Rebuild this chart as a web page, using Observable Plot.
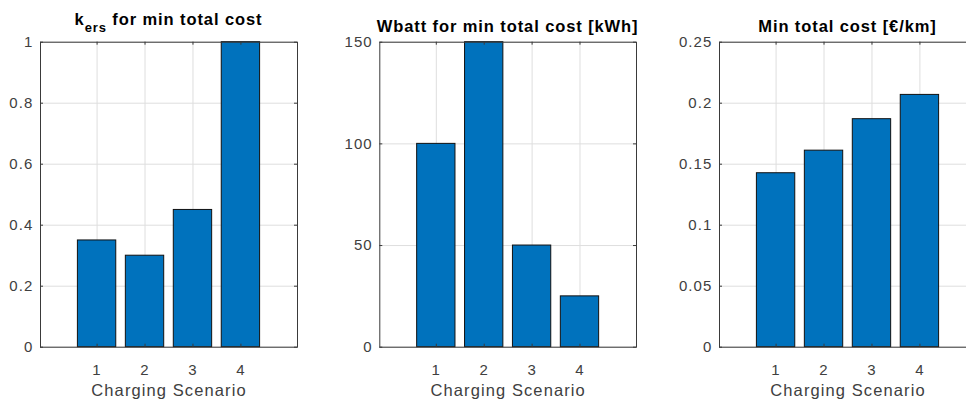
<!DOCTYPE html>
<html><head><meta charset="utf-8">
<script src="https://cdn.jsdelivr.net/npm/d3@7"></script>
<script src="https://cdn.jsdelivr.net/npm/@observablehq/plot@0.6"></script>
<style>
html,body{margin:0;padding:0;background:#fff;overflow:hidden;}
#wrap{position:relative;width:966px;height:403px;overflow:hidden;background:#fff;}
.panel{position:absolute;top:0;}
.panel svg{max-width:none !important;display:block;}
.panel svg text{letter-spacing:1.1px;}
</style></head><body><div id="wrap"></div>
<script>
const scenarios = [1, 2, 3, 4];
const kersValues = [0.35, 0.30, 0.45, 1.00];
const wbattValues = [100, 150, 50, 25];
const costValues = [0.1426, 0.1611, 0.1869, 0.2068];
const kersTicks = [0, 0.2, 0.4, 0.6, 0.8, 1];
const wbattTicks = [0, 50, 100, 150];
const costTicks = [0, 0.05, 0.1, 0.15, 0.2, 0.25];
const xLabel = "Charging Scenario";

const FONT = "'Liberation Sans', Arial, Helvetica, sans-serif";
const H = 403, MT = 41.7, MB = 56.3;
const FH = H - MT - MB;
const axisColor = "#3a3a3a";
const textColor = "#404040";

function panel(cfg) {
  const data = scenarios.map((s, i) => ({s, v: cfg.values[i]}));
  const fw = cfg.width - cfg.marginLeft - cfg.marginRight;
  const svg = Plot.plot({
    width: cfg.width, height: H,
    marginTop: MT, marginBottom: MB, marginLeft: cfg.marginLeft, marginRight: cfg.marginRight,
    x: {type: "linear", domain: [1 - 1.18, 4 + 1.18]},
    y: {type: "linear", domain: [0, cfg.yTicks[cfg.yTicks.length - 1]]},
    style: {fontFamily: FONT, fontSize: "15px", color: textColor, background: "transparent", overflow: "visible"},
    marks: [
      Plot.gridX(scenarios, {stroke: "#dedede", strokeOpacity: 1}),
      Plot.gridY(cfg.yTicks, {stroke: "#dedede", strokeOpacity: 1}),
      Plot.rectY(data, {x1: d => d.s - 0.4, x2: d => d.s + 0.4, y1: 0, y2: "v", fill: "#0072BD", stroke: "#111", strokeWidth: 1}),
      Plot.tickX(scenarios, {x: d => d, stroke: axisColor, insetTop: FH - 3}),
      Plot.tickX(scenarios, {x: d => d, stroke: axisColor, insetBottom: FH - 3}),
      Plot.tickY(cfg.yTicks, {y: d => d, stroke: axisColor, insetRight: fw - 3}),
      Plot.tickY(cfg.yTicks, {y: d => d, stroke: axisColor, insetLeft: fw - 3}),
      Plot.frame({stroke: axisColor}),
      Plot.axisX(scenarios, {tickSize: 0, tickPadding: 17, label: null, fontSize: 15, tickFormat: d => String(d)}),
      Plot.axisY(cfg.yTicks, {tickSize: 0, tickPadding: 7, label: null, fontSize: 15, tickFormat: d => String(d)}),
      Plot.text([xLabel], {text: d => d, frameAnchor: "bottom", dy: 44, lineAnchor: "middle", fontSize: 16.5, fill: textColor})
    ]
  });
  svg.style.maxWidth = "none";
  const t = d3.select(svg).append("text")
    .attr("x", cfg.marginLeft + fw / 2)
    .attr("y", cfg.titleY)
    .attr("text-anchor", "middle")
    .attr("font-family", FONT)
    .attr("font-weight", "bold")
    .attr("font-size", 16.5)
    .attr("fill", "#000")
    .style("letter-spacing", "0.9px");
  cfg.title(t);
  const div = document.createElement("div");
  div.className = "panel";
  div.style.left = cfg.left + "px";
  div.style.width = cfg.width + "px";
  div.appendChild(svg);
  document.getElementById("wrap").appendChild(div);
}

panel({
  values: kersValues, yTicks: kersTicks, left: 0, width: 320, marginLeft: 40, marginRight: 23, titleY: 25,
  title: t => {
    t.append("tspan").text("k");
    t.append("tspan").attr("dy", 7).attr("font-size", 13).text("ers");
    t.append("tspan").attr("dy", -7).text(" for min total cost");
  }
});
panel({
  values: wbattValues, yTicks: wbattTicks, left: 320, width: 330, marginLeft: 59.3, marginRight: 14, titleY: 32,
  title: t => t.text("Wbatt for min total cost [kWh]")
});
panel({
  values: costValues, yTicks: costTicks, left: 650, width: 340, marginLeft: 69, marginRight: 14, titleY: 32,
  title: t => t.text("Min total cost [€/km]")
});
</script></body></html>
